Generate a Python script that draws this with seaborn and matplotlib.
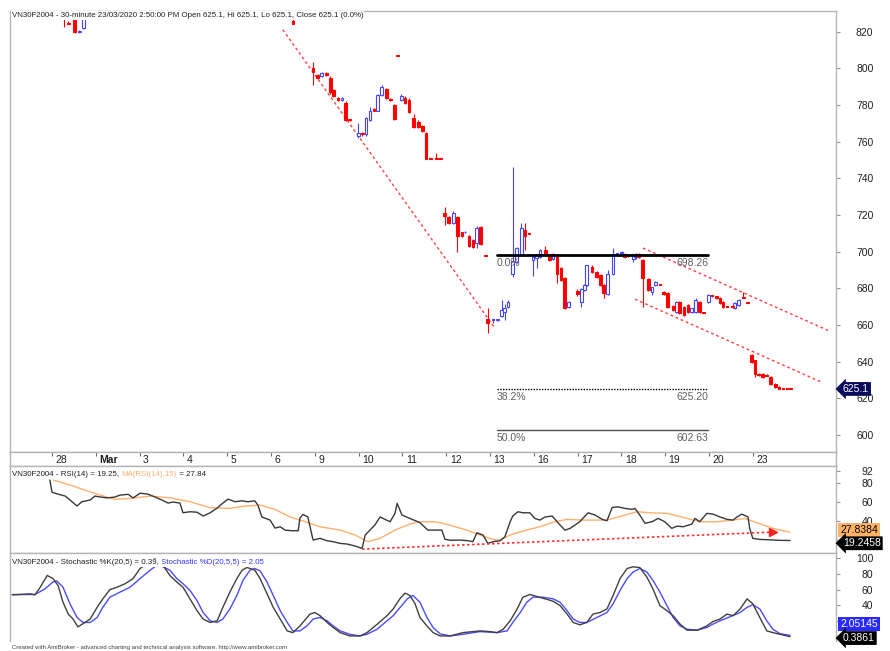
import numpy as np
import pandas as pd
import seaborn as sns
import matplotlib
matplotlib.use("Agg")
import matplotlib.pyplot as plt
import matplotlib.transforms as mtrans

# time axis: trading days counted from 27 Feb 2020 (one unit per session)
day_ticks = list(range(1, 18))
day_labels = ["28", "Mar", "3", "4", "5", "6", "9", "10", "11", "12", "13",
              "16", "17", "18", "19", "20", "23"]

# visible 30-minute candles: (time, open, high, low, close)
candles = [
    # 28 Feb / 6 Mar, mostly above the visible range
    (1.27, 845.0, 850.0, 822.5, 835.0), (1.37, 824.6, 826.0, 824.2, 824.3),
    (1.52, 835.0, 840.0, 819.5, 820.0), (1.62, 819.8, 821.0, 819.2, 820.6),
    (1.71, 822.0, 840.0, 821.5, 835.0), (6.50, 826.0, 828.0, 824.5, 824.5),
    # 9 Mar
    (6.96, 800.0, 803.6, 791.0, 797.8), (7.07, 796.5, 797.0, 794.0, 795.0),
    (7.16, 796.0, 798.0, 795.5, 797.5), (7.26, 797.5, 798.0, 796.0, 796.5),
    (7.35, 795.0, 796.0, 786.0, 787.0), (7.42, 788.0, 788.5, 784.5, 785.0),
    (7.53, 784.0, 784.5, 782.0, 782.5), (7.62, 782.5, 784.5, 782.0, 784.0),
    (7.71, 781.0, 782.0, 771.5, 772.0), (7.80, 772.0, 772.5, 771.5, 771.8),
    # 10 Mar
    (7.99, 763.0, 770.0, 762.0, 765.0), (8.08, 765.0, 765.5, 763.0, 764.0),
    (8.17, 764.0, 773.5, 763.0, 773.0), (8.26, 772.0, 779.0, 771.5, 777.0),
    (8.35, 778.0, 778.5, 776.5, 777.0), (8.44, 777.0, 786.0, 776.5, 785.5),
    (8.53, 785.5, 791.0, 785.0, 790.0), (8.63, 789.0, 789.5, 783.5, 784.0),
    (8.72, 783.5, 784.0, 782.0, 782.5), (8.81, 780.0, 780.5, 772.0, 772.5),
    (8.88, 807.0, 807.2, 806.8, 806.9),
    # 11 Mar
    (8.97, 783.0, 786.0, 782.0, 785.0), (9.06, 784.0, 785.0, 780.5, 781.0),
    (9.15, 783.0, 784.0, 775.5, 776.0), (9.26, 773.0, 775.0, 767.5, 768.0),
    (9.36, 771.0, 772.0, 767.5, 768.0), (9.45, 768.5, 769.0, 765.5, 766.0),
    (9.54, 765.0, 765.5, 750.5, 750.6), (9.65, 750.6, 751.0, 750.4, 750.5),
    (9.77, 750.6, 754.0, 750.4, 750.5), (9.86, 750.6, 751.0, 750.4, 750.5),
    # 12 Mar
    (9.97, 721.0, 724.4, 714.5, 719.5), (10.06, 719.0, 719.5, 715.0, 715.6),
    (10.16, 715.6, 722.0, 715.0, 721.0), (10.25, 719.0, 719.5, 700.0, 708.5),
    (10.36, 710.7, 711.0, 708.0, 708.5), (10.43, 710.5, 711.5, 710.0, 711.0),
    (10.52, 708.5, 709.0, 702.5, 703.0), (10.61, 706.4, 707.0, 702.0, 702.5),
    (10.70, 704.7, 714.0, 702.0, 713.0), (10.79, 713.5, 714.0, 703.5, 704.0),
    (10.89, 697.8, 698.0, 697.5, 697.6),
    # 13 Mar
    (10.95, 663.0, 669.0, 655.5, 661.0), (11.07, 662.5, 663.5, 661.0, 663.0),
    (11.18, 662.8, 663.5, 662.0, 663.2), (11.27, 665.0, 673.5, 664.5, 668.0),
    (11.34, 667.0, 671.5, 662.5, 669.5), (11.41, 670.0, 673.5, 669.5, 672.5),
    (11.52, 688.0, 746.0, 686.0, 695.0), (11.61, 694.5, 702.5, 694.0, 702.0),
    (11.71, 698.0, 715.6, 697.5, 713.0), (11.80, 712.0, 715.6, 701.0, 708.5),
    (11.89, 709.8, 710.0, 709.5, 709.7),
    # 16 Mar
    (11.98, 695.5, 697.5, 687.0, 697.0), (12.07, 696.5, 699.0, 691.0, 698.7),
    (12.14, 697.0, 701.5, 696.5, 701.0), (12.26, 701.0, 703.0, 698.5, 699.0),
    (12.35, 698.7, 699.0, 695.0, 695.5), (12.44, 696.0, 699.5, 695.5, 699.0),
    (12.53, 697.0, 697.5, 683.0, 688.0), (12.62, 691.0, 691.5, 684.0, 684.5),
    (12.71, 685.6, 686.0, 668.5, 669.0), (12.80, 670.0, 673.0, 669.5, 672.5),
    # 17 Mar
    (12.99, 678.5, 679.5, 676.0, 677.0), (13.08, 672.5, 680.0, 670.0, 679.6),
    (13.15, 679.0, 682.5, 678.5, 682.0), (13.21, 682.0, 693.0, 681.5, 692.7),
    (13.33, 691.6, 692.5, 688.5, 689.0), (13.44, 689.0, 689.5, 685.5, 686.0),
    (13.53, 687.5, 688.0, 681.5, 682.0), (13.60, 682.0, 682.5, 674.5, 677.5),
    (13.69, 677.0, 690.0, 676.5, 688.0), (13.81, 688.0, 702.0, 687.5, 699.0),
    # 18 Mar
    (13.90, 698.8, 699.5, 698.0, 699.2), (14.01, 699.3, 700.5, 698.5, 699.6),
    (14.08, 699.0, 699.5, 696.5, 697.0), (14.15, 698.0, 698.5, 697.0, 697.5),
    (14.27, 696.0, 699.0, 694.5, 698.7), (14.33, 697.0, 699.5, 696.0, 698.7),
    (14.40, 699.0, 699.5, 696.5, 697.0), (14.49, 695.5, 696.0, 670.0, 685.6),
    (14.61, 685.0, 685.5, 678.5, 679.0), (14.70, 678.0, 681.0, 676.5, 680.6),
    (14.77, 681.8, 683.8, 681.5, 683.4),
    # 19 Mar
    (14.88, 682.2, 682.4, 681.8, 682.0), (14.97, 678.0, 678.5, 676.5, 677.0),
    (15.06, 677.5, 678.0, 669.5, 670.0), (15.18, 670.5, 671.0, 667.5, 668.0),
    (15.25, 667.0, 673.0, 666.5, 672.5), (15.32, 672.5, 673.0, 666.0, 666.5),
    (15.43, 670.0, 670.5, 665.0, 665.5), (15.52, 671.0, 671.5, 666.5, 667.0),
    (15.61, 667.0, 669.5, 666.5, 669.0), (15.70, 667.0, 674.5, 666.5, 673.5),
    (15.79, 672.5, 673.0, 666.5, 667.0), (15.88, 666.7, 666.9, 666.4, 666.5),
    # 20 Mar
    (15.98, 672.5, 677.0, 672.0, 676.3), (16.07, 676.2, 676.5, 675.5, 676.0),
    (16.18, 675.7, 676.0, 674.0, 674.6), (16.25, 675.0, 675.5, 671.5, 672.0),
    (16.32, 672.5, 673.0, 669.5, 670.0), (16.41, 670.2, 670.4, 669.8, 670.0),
    (16.53, 670.2, 670.4, 669.8, 670.0), (16.59, 669.0, 672.5, 668.5, 672.0),
    (16.68, 671.0, 674.0, 670.5, 673.5), (16.78, 675.2, 678.0, 674.8, 675.0),
    (16.87, 672.2, 672.4, 671.8, 672.0),
    # 23 Mar
    (16.98, 643.5, 644.0, 639.5, 640.0), (17.05, 640.8, 641.0, 631.5, 633.5),
    (17.14, 633.5, 634.0, 632.0, 632.5), (17.23, 633.5, 634.0, 631.0, 631.5),
    (17.32, 632.7, 633.0, 632.0, 632.3), (17.41, 631.5, 632.0, 627.5, 628.0),
    (17.51, 628.0, 628.5, 625.5, 626.0), (17.60, 626.0, 626.5, 625.0, 625.1),
    (17.69, 625.1, 625.1, 625.1, 625.1), (17.78, 625.1, 625.1, 625.1, 625.1),
    (17.87, 625.1, 625.1, 625.1, 625.1),
]

# hand-drawn trend lines on the price pane: ((t0, p0), (t1, p1))
price_trends = [((6.27, 821.1), (11.11, 658.3)),
                ((14.49, 702.0), (18.76, 656.6)),
                ((14.31, 674.1), (18.58, 628.7))]

# Fibonacci retracement
fib_span = (11.16, 15.98)
fib_pct = ["0.0%", "38.2%", "50.0%"]
fib_price = [698.26, 625.20, 602.63]

last_close = 625.1

rsi_pts = [
    (0.95, 82.8), (1.00, 70.0), (1.14, 68.0), (1.30, 66.0), (1.41, 61.8), (1.57, 55.5),
    (1.68, 60.0), (1.87, 61.8), (1.98, 66.0), (2.10, 65.0), (2.26, 64.0), (2.44, 65.0),
    (2.55, 67.0), (2.74, 67.8), (2.85, 64.0), (3.01, 69.0), (3.19, 68.0), (3.35, 65.0),
    (3.51, 61.8), (3.65, 58.6), (3.76, 59.7), (3.92, 58.6), (3.99, 48.4), (4.15, 49.5),
    (4.31, 49.0), (4.45, 45.0), (4.61, 48.4), (4.77, 53.4), (4.90, 58.6), (5.02, 62.8),
    (5.18, 60.0), (5.34, 61.0), (5.47, 60.0), (5.63, 61.0), (5.70, 56.5), (5.79, 44.0),
    (5.98, 40.7), (6.09, 32.3), (6.21, 33.7), (6.32, 30.2), (6.48, 29.5), (6.62, 29.5),
    (6.66, 42.8), (6.73, 46.7), (6.84, 44.0), (6.96, 19.7), (7.12, 21.5), (7.28, 19.0),
    (7.42, 18.0), (7.58, 16.2), (7.74, 15.5), (7.92, 13.4), (8.08, 11.0), (8.15, 25.0),
    (8.26, 30.2), (8.37, 35.5), (8.49, 44.0), (8.60, 41.5), (8.72, 39.0), (8.83, 47.8),
    (8.88, 58.3), (8.99, 46.0), (9.17, 42.5), (9.40, 38.0), (9.58, 30.2), (9.74, 30.2),
    (9.90, 30.2), (9.97, 20.6), (10.09, 19.5), (10.32, 19.7), (10.50, 19.0), (10.61, 18.0),
    (10.70, 27.4), (10.84, 25.0), (10.95, 16.2), (11.07, 18.0), (11.23, 19.0), (11.34, 23.2),
    (11.46, 39.0), (11.52, 45.0), (11.64, 49.5), (11.75, 48.4), (11.91, 48.4), (12.02, 42.5),
    (12.14, 40.7), (12.26, 44.0), (12.42, 45.0), (12.60, 35.5), (12.71, 30.2), (12.83, 32.0),
    (12.94, 35.5), (13.05, 39.0), (13.24, 48.4), (13.40, 46.0), (13.56, 41.5), (13.67, 40.0),
    (13.79, 54.0), (13.92, 54.7), (14.08, 53.0), (14.24, 52.0), (14.31, 53.0), (14.42, 46.0),
    (14.54, 37.3), (14.70, 39.0), (14.84, 42.5), (14.99, 39.0), (15.15, 32.0), (15.27, 34.4),
    (15.41, 33.7), (15.61, 36.5), (15.68, 42.5), (15.79, 39.0), (15.95, 47.8), (16.09, 47.0),
    (16.25, 44.0), (16.41, 41.5), (16.55, 40.7), (16.64, 44.0), (16.75, 47.0), (16.89, 44.0),
    (16.93, 32.0), (17.00, 21.5), (17.16, 20.4), (17.46, 19.8), (17.62, 19.4), (17.85, 19.25),
]

rsi_ma_pts = [
    (1.03, 82.8), (1.41, 77.6), (1.75, 72.3), (2.10, 67.0), (2.44, 62.5), (2.78, 63.5),
    (3.24, 66.0), (3.69, 64.2), (4.15, 60.0), (4.61, 53.7), (5.06, 53.0), (5.41, 55.5),
    (5.75, 56.5), (6.09, 52.0), (6.43, 44.0), (6.78, 39.0), (7.12, 33.7), (7.58, 30.2),
    (7.92, 25.0), (8.21, 18.0), (8.49, 21.5), (8.83, 30.2), (9.17, 36.5), (9.40, 39.0),
    (9.70, 39.0), (9.86, 38.0), (10.16, 34.4), (10.47, 30.2), (10.77, 25.0), (11.07, 20.4),
    (11.23, 19.7), (11.46, 25.0), (11.75, 29.2), (12.14, 33.7), (12.48, 39.0), (12.76, 41.5),
    (13.12, 40.7), (13.67, 40.7), (14.08, 46.0), (14.36, 49.5), (14.65, 48.4), (15.04, 47.8),
    (15.41, 43.6), (15.79, 39.0), (16.18, 39.0), (16.55, 40.7), (16.82, 42.5), (17.09, 38.0),
    (17.46, 32.0), (17.85, 27.84),
]

rsi_trend = [(8.08, 10.2), (17.46, 28.1)]

stoch_k_pts = [
    (0.09, 53.4), (0.27, 53.8), (0.50, 54.7), (0.61, 53.4), (0.73, 63.0), (0.89, 78.0),
    (1.02, 74.0), (1.14, 65.0), (1.25, 44.0), (1.37, 29.0), (1.48, 22.7), (1.59, 12.8),
    (1.71, 17.0), (1.87, 22.7), (2.03, 37.6), (2.16, 48.3), (2.32, 60.0), (2.48, 63.0),
    (2.67, 67.5), (2.85, 74.0), (3.01, 86.8), (3.17, 93.0), (3.35, 99.0), (3.53, 91.0),
    (3.69, 78.0), (3.85, 69.6), (3.99, 63.0), (4.15, 48.3), (4.31, 33.3), (4.45, 22.7),
    (4.61, 18.4), (4.77, 20.5), (4.90, 37.6), (5.06, 56.8), (5.22, 74.0), (5.34, 84.6),
    (5.45, 88.0), (5.52, 86.8), (5.63, 84.6), (5.75, 74.0), (5.91, 54.7), (6.05, 37.6),
    (6.21, 22.7), (6.37, 7.7), (6.50, 5.5), (6.66, 14.0), (6.89, 29.0), (7.00, 31.0),
    (7.12, 27.0), (7.28, 18.4), (7.42, 12.0), (7.58, 5.5), (7.80, 1.3), (8.03, 1.3),
    (8.19, 5.5), (8.42, 16.0), (8.65, 27.0), (8.79, 35.5), (8.95, 49.0), (9.06, 55.5),
    (9.17, 52.6), (9.29, 42.0), (9.40, 24.7), (9.56, 14.0), (9.70, 5.5), (9.86, 1.3),
    (10.09, 1.3), (10.38, 5.5), (10.61, 6.8), (10.77, 7.7), (11.00, 6.8), (11.16, 5.5),
    (11.30, 9.8), (11.46, 20.5), (11.62, 35.5), (11.75, 50.4), (11.91, 53.8), (12.07, 51.3),
    (12.26, 48.3), (12.44, 45.3), (12.60, 39.7), (12.76, 29.0), (12.90, 18.4), (13.05, 15.4),
    (13.21, 18.4), (13.35, 29.0), (13.51, 31.0), (13.67, 35.5), (13.81, 52.6), (13.97, 74.0),
    (14.13, 86.8), (14.27, 88.9), (14.42, 88.0), (14.58, 76.0), (14.72, 61.0), (14.88, 39.7),
    (15.04, 33.3), (15.18, 27.0), (15.34, 16.3), (15.50, 8.6), (15.73, 8.6), (15.95, 14.0),
    (16.09, 19.6), (16.25, 22.7), (16.41, 29.0), (16.55, 27.0), (16.71, 35.5), (16.87, 48.3),
    (17.00, 42.0), (17.16, 24.7), (17.32, 7.7), (17.46, 5.5), (17.62, 3.4), (17.85, 0.39),
]

stoch_d_pts = [
    (0.09, 53.8), (0.61, 53.8), (0.84, 61.0), (1.02, 69.6), (1.11, 71.0), (1.25, 63.0),
    (1.41, 42.0), (1.57, 24.7), (1.71, 18.4), (1.87, 18.4), (2.03, 24.7), (2.16, 37.6),
    (2.32, 50.4), (2.55, 56.8), (2.78, 63.0), (3.01, 74.0), (3.24, 84.6), (3.42, 92.0),
    (3.69, 84.6), (3.85, 74.0), (3.99, 67.5), (4.15, 59.0), (4.31, 46.0), (4.45, 31.0),
    (4.61, 20.5), (4.77, 18.4), (4.90, 22.7), (5.06, 35.5), (5.22, 52.6), (5.36, 71.8),
    (5.52, 84.6), (5.63, 86.8), (5.75, 83.7), (5.91, 69.6), (6.05, 52.6), (6.21, 33.3),
    (6.37, 18.4), (6.50, 7.7), (6.66, 7.7), (6.82, 14.0), (6.96, 22.7), (7.12, 24.7),
    (7.28, 20.5), (7.42, 14.0), (7.58, 7.7), (7.80, 3.4), (8.03, 1.3), (8.19, 3.4),
    (8.42, 9.8), (8.65, 20.5), (8.79, 27.0), (8.95, 37.6), (9.11, 48.3), (9.24, 52.6),
    (9.40, 44.0), (9.56, 24.7), (9.70, 12.0), (9.86, 4.0), (10.09, 1.3), (10.38, 3.4),
    (10.77, 6.8), (11.16, 5.5), (11.39, 7.7), (11.52, 18.4), (11.69, 31.0), (11.84, 44.0),
    (11.98, 50.4), (12.21, 50.4), (12.44, 48.3), (12.60, 44.0), (12.76, 33.3), (12.90, 22.7),
    (13.05, 18.4), (13.21, 18.4), (13.44, 24.7), (13.67, 31.0), (13.81, 42.0), (13.97, 59.0),
    (14.13, 74.0), (14.27, 82.4), (14.42, 86.8), (14.58, 82.4), (14.72, 71.8), (14.88, 56.8),
    (15.04, 39.7), (15.18, 24.7), (15.34, 14.0), (15.50, 9.8), (15.73, 8.6), (15.95, 12.0),
    (16.09, 16.3), (16.25, 20.5), (16.48, 25.6), (16.71, 31.0), (16.87, 37.6), (17.00, 41.0),
    (17.16, 35.5), (17.32, 20.5), (17.46, 9.8), (17.62, 4.2), (17.85, 2.05),
]

RED = "#ff0000"
BLUE = "#4646ff"
GRID = "#b4b4b4"
ORANGE = "#ffb070"
FONT = ["Liberation Sans Narrow", "Liberation Sans", "DejaVu Sans"]
TITLE_FS = 5.7

sns.set_theme(style="white")
plt.rcParams["font.family"] = FONT

W, H = 890, 651
fig = plt.figure(figsize=(W / 100, H / 100), dpi=100)


def px_rect(x0, y0, x1, y1):
    return [x0 / W, 1 - y1 / H, (x1 - x0) / W, (y1 - y0) / H]


ax_p = fig.add_axes(px_rect(10, 10.5, 836, 452))
ax_d = fig.add_axes(px_rect(10, 452, 836, 466), sharex=ax_p)
ax_r = fig.add_axes(px_rect(10, 466, 836, 553), sharex=ax_p)
ax_s = fig.add_axes(px_rect(10, 553, 836, 641), sharex=ax_p)

# ---- candlesticks ----
cdf = pd.DataFrame(candles, columns=["t", "open", "high", "low", "close"])
up = cdf["close"] > cdf["open"]
for sub, edge, face in [(cdf[up], BLUE, "white"), (cdf[~up], RED, RED)]:
    ax_p.vlines(sub["t"], sub["low"], sub["high"], color=edge, lw=0.8, zorder=2)
    body = (sub["close"] - sub["open"]).abs().clip(lower=0.4)
    ax_p.bar(sub["t"], body, bottom=sub[["open", "close"]].min(axis=1), width=0.065,
             color=face, edgecolor=edge, linewidth=0.8, zorder=3)

for (t0, p0), (t1, p1) in price_trends:
    sns.lineplot(x=[t0, t1], y=[p0, p1], ax=ax_p, color="#ff4040", lw=1,
                 linestyle=(0, (2, 2)), estimator=None)

fib_styles = [("-", 2.0, "black"), ((0, (1, 1)), 1.0, "black"), ("-", 1.0, "#505050")]
for pct, price, (ls, lw, col) in zip(fib_pct, fib_price, fib_styles):
    ax_p.plot(fib_span, [price, price], color=col, lw=lw, linestyle=ls, zorder=4)
    ax_p.annotate(pct, xy=(fib_span[0], price), xytext=(0, -2), textcoords="offset points",
                  ha="left", va="top", fontsize=7.5, color="#606060")
    ax_p.annotate(f"{price:.2f}", xy=(fib_span[1], price), xytext=(0, -2),
                  textcoords="offset points", ha="right", va="top", fontsize=7.5,
                  color="#606060")

# ---- RSI pane ----
rsi = pd.DataFrame(rsi_pts, columns=["t", "v"])
rsi_ma = pd.DataFrame(rsi_ma_pts, columns=["t", "v"])
sns.lineplot(data=rsi_ma, x="t", y="v", ax=ax_r, color=ORANGE, lw=1, estimator=None)
sns.lineplot(data=rsi, x="t", y="v", ax=ax_r, color="#383838", lw=1, estimator=None)
sns.lineplot(x=[p[0] for p in rsi_trend], y=[p[1] for p in rsi_trend], ax=ax_r,
             color="#ff3030", lw=1.2, linestyle=(0, (1.5, 1.5)), estimator=None)
ax_r.plot(rsi_trend[-1][0], rsi_trend[-1][1], marker=">", color="#ff2020", ms=6)

# ---- Stochastic pane ----
sk = pd.DataFrame(stoch_k_pts, columns=["t", "v"])
sd = pd.DataFrame(stoch_d_pts, columns=["t", "v"])
sns.lineplot(data=sd, x="t", y="v", ax=ax_s, color="#4b4bff", lw=1, estimator=None)
sns.lineplot(data=sk, x="t", y="v", ax=ax_s, color="#404040", lw=1, estimator=None)

# ---- axes styling ----
ax_p.set_xlim(0.04, 18.9)
ax_p.set_ylim(590.7, 831.6)
ax_r.set_ylim(6.1, 97.6)
ax_s.set_ylim(-5.1, 106.4)

# tick values; the lowest ones sit under the last-value tags and carry no label
yticks = {ax_p: (list(range(600, 821, 20)), []),
          ax_r: ([20, 40, 60, 80, 92], [20]),
          ax_s: ([0, 20, 40, 60, 80, 100], [0, 20])}
for ax in (ax_p, ax_d, ax_r, ax_s):
    ax.set_facecolor("white")
    ax.set_xlabel("")
    ax.set_ylabel("")
    for sp in ax.spines.values():
        sp.set_color(GRID)
        sp.set_linewidth(1)
    ax.tick_params(axis="x", bottom=False, top=False, labelbottom=False)
    if ax in yticks:
        vals, hidden = yticks[ax]
        ax.yaxis.tick_right()
        ax.set_yticks(vals)
        ax.set_yticklabels(["" if v in hidden else str(v) for v in vals], ha="right")
        ax.tick_params(axis="y", right=True, left=False, direction="out", length=3,
                       width=0.8, color="#909090", pad=24, labelsize=7.5,
                       labelcolor="#202020")
ax_s.spines["bottom"].set_visible(False)

ax_d.set_yticks([])
ax_d.set_xticks(day_ticks)
ax_d.tick_params(axis="x", top=True, bottom=False, labelbottom=False, direction="in",
                 length=3, width=0.8, color="#707070")
strip = mtrans.blended_transform_factory(ax_d.transData, ax_d.transAxes)
for t, lab in zip(day_ticks, day_labels):
    ax_d.text(t + 0.08, 0.42, lab, transform=strip, ha="left", va="center", fontsize=7.5,
              color="#202020", fontweight="bold" if lab == "Mar" else "normal")

# ---- titles ----
white = dict(facecolor="white", edgecolor="none", pad=0.6)
fig.text(12 / W, 1 - 15.5 / H,
         "VN30F2004 - 30-minute 23/03/2020 2:50:00 PM Open 625.1, Hi 625.1, "
         "Lo 625.1, Close 625.1 (0.0%)", fontsize=TITLE_FS, va="center", ha="left",
         color="#202020", bbox=white)

t1 = fig.text(12 / W, 1 - 474 / H, "VN30F2004 - RSI(14) = 19.25, ", fontsize=TITLE_FS,
              va="center", ha="left", color="#202020", bbox=white)
t2 = ax_r.annotate("MA(RSI(14),15)", xy=(1, 0), xycoords=t1, va="bottom", ha="left",
                   fontsize=TITLE_FS, color=ORANGE, bbox=white)
ax_r.annotate(" = 27.84", xy=(1, 0), xycoords=t2, va="bottom", ha="left",
              fontsize=TITLE_FS, color="#202020", bbox=white)

s1 = fig.text(12 / W, 1 - 563 / H, "VN30F2004 - Stochastic %K(20,5) = 0.39, ",
              fontsize=TITLE_FS, va="center", ha="left", color="#202020", bbox=white)
ax_s.annotate("Stochastic %D(20,5,5) = 2.05", xy=(1, 0), xycoords=s1, va="bottom",
              ha="left", fontsize=TITLE_FS, color="#3333ff", bbox=white)

fig.text(12 / W, 1 - 648 / H, "Created with AmiBroker - advanced charting and technical "
         "analysis software. http://www.amibroker.com", fontsize=4.3, va="center",
         ha="left", color="#404040")

# ---- last-value markers on the right axis ----
def value_tag(ax, value, text, face, fg, dy=0, arrow=False):
    style = "larrow,pad=0.18" if arrow else "square,pad=0.18"
    ax.annotate(text, xy=(1, value), xycoords=("axes fraction", "data"),
                xytext=(5 if arrow else 3, dy), textcoords="offset points", ha="left",
                va="center", fontsize=7.5, color=fg, annotation_clip=False,
                bbox=dict(boxstyle=style, facecolor=face, edgecolor="none"), zorder=10)


value_tag(ax_p, last_close, "625.1", "#0a0a5a", "white", arrow=True)
value_tag(ax_r, rsi_ma_pts[-1][1], "27.8384", "#ffb366", "black", dy=1.5)
value_tag(ax_r, rsi_pts[-1][1], "19.2458", "black", "white", dy=-2, arrow=True)
value_tag(ax_s, stoch_d_pts[-1][1], "2.05145", "#2a2aff", "white", dy=8)
value_tag(ax_s, stoch_k_pts[-1][1], "0.3861", "black", "white", dy=-1, arrow=True)

fig.savefig("out.png", dpi=100, facecolor="white")
